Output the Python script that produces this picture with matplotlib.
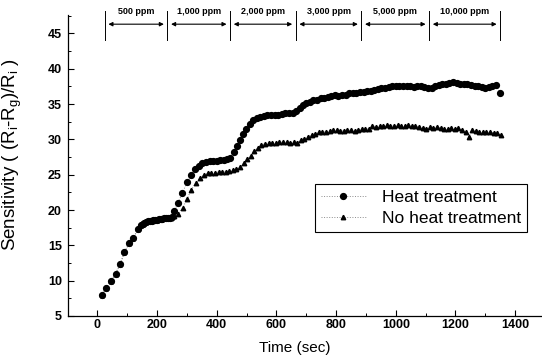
import matplotlib
matplotlib.use("Agg")
import matplotlib.pyplot as plt
from matplotlib.ticker import MultipleLocator

plt.rcParams['font.family'] = ['Liberation Sans', 'DejaVu Sans']
plt.rcParams['mathtext.fontset'] = 'custom'
plt.rcParams['mathtext.rm'] = 'Liberation Sans'
plt.rcParams['mathtext.it'] = 'Liberation Sans'

# ---- data ----
heat_t = [15, 29, 45, 61, 76, 91, 106, 121, 136, 146,
          152, 158, 164, 170, 176, 182, 188, 194, 200, 206, 212, 218, 224, 230, 236, 242, 250,
          258, 270, 285, 300, 315, 328, 340, 352, 364, 376, 388, 400, 412, 424, 436, 446,
          458, 468, 478, 488, 498, 510, 522, 534, 546, 558, 570, 582, 594, 606, 618, 630,
          642, 654, 666, 678, 688, 700, 712, 724, 736, 748, 760, 772, 784, 796, 808, 820,
          832, 844, 856, 868, 880, 892, 904, 916, 928, 940, 952, 964, 976, 988, 1000, 1012,
          1024, 1036, 1048, 1060, 1072, 1084, 1096, 1108, 1120, 1132, 1144, 1156, 1168, 1180,
          1192, 1204, 1216, 1228, 1240, 1252, 1264, 1276, 1288, 1300, 1312, 1324, 1336, 1350]
heat_s = [8.0, 9.0, 9.9, 11.0, 12.3, 14.0, 15.3, 16.1, 17.3, 17.9,
          18.0, 18.2, 18.3, 18.4, 18.4, 18.5, 18.6, 18.6, 18.6, 18.7, 18.7, 18.7, 18.8, 18.8, 18.8, 18.9, 19.0,
          19.9, 21.0, 22.4, 23.9, 24.9, 25.8, 26.3, 26.6, 26.8, 26.9, 27.0, 27.0, 27.1, 27.1, 27.2, 27.3,
          28.2, 29.0, 29.9, 30.8, 31.5, 32.2, 32.7, 33.0, 33.2, 33.3, 33.4, 33.4, 33.5, 33.5, 33.6, 33.7,
          33.7, 33.8, 34.0, 34.4, 34.9, 35.1, 35.3, 35.5, 35.6, 35.8, 35.8, 36.0, 36.2, 36.3, 36.2, 36.3,
          36.3, 36.5, 36.5, 36.6, 36.7, 36.7, 36.9, 36.9, 37.0, 37.1, 37.2, 37.3, 37.4, 37.5, 37.6, 37.6,
          37.5, 37.5, 37.5, 37.4, 37.5, 37.5, 37.4, 37.3, 37.3, 37.5, 37.7, 37.8, 37.9, 38.0,
          38.1, 38.0, 37.8, 37.8, 37.8, 37.7, 37.6, 37.5, 37.4, 37.3, 37.4, 37.6, 37.7, 36.6]

noheat_t = [15, 29, 45, 61, 76, 91, 106, 121, 136, 146,
            152, 164, 176, 188, 200, 212, 224, 236, 248,
            258, 270, 286, 300, 314, 329, 344, 358, 370, 382, 394, 406, 418, 430, 442,
            454, 466, 478, 490, 502, 514, 526, 538, 550, 562, 574, 586, 598, 610, 622, 634,
            646, 658, 670, 682, 694, 706, 718, 730, 742, 754, 766, 778, 790, 802, 814, 826,
            838, 850, 862, 874, 886, 898, 910, 922, 934, 946, 958, 970, 982, 994, 1006, 1018,
            1030, 1042, 1054, 1066, 1078, 1090, 1102, 1114, 1126, 1138, 1150, 1162, 1174, 1186,
            1198, 1210, 1222, 1234, 1244, 1256, 1268, 1280, 1292, 1304, 1316, 1328, 1340, 1352]
noheat_s = [8.0, 9.0, 9.9, 11.0, 12.3, 14.0, 15.3, 16.1, 17.3, 17.9,
            18.0, 18.3, 18.4, 18.6, 18.6, 18.7, 18.8, 18.8, 18.9,
            19.2, 19.5, 20.3, 21.5, 22.8, 23.8, 24.5, 25.0, 25.2, 25.3, 25.3, 25.4, 25.4, 25.4, 25.5,
            25.6, 25.8, 26.1, 26.6, 27.2, 27.7, 28.3, 28.8, 29.2, 29.4, 29.5, 29.5, 29.5, 29.6, 29.6, 29.6,
            29.5, 29.6, 29.5, 29.9, 30.1, 30.4, 30.6, 30.8, 31.0, 31.1, 31.0, 31.2, 31.3, 31.3, 31.2, 31.2,
            31.3, 31.3, 31.2, 31.3, 31.4, 31.4, 31.5, 31.9, 31.8, 31.9, 31.9, 32.0, 31.9, 31.9, 32.0, 31.9,
            31.9, 32.0, 31.9, 31.9, 31.8, 31.6, 31.5, 31.7, 31.6, 31.8, 31.6, 31.5, 31.4, 31.6,
            31.4, 31.6, 31.3, 31.1, 30.4, 31.3, 31.2, 31.1, 31.1, 31.0, 31.1, 30.9, 30.9, 30.6]

conc_bounds = [25, 235, 445, 665, 885, 1112, 1350]
conc_labels = ["500 ppm", "1,000 ppm", "2,000 ppm", "3,000 ppm", "5,000 ppm", "10,000 ppm"]

# ---- figure ----
fig = plt.figure(figsize=(5.42, 3.61), dpi=100)
ax = fig.add_axes([67.5 / 542, 45 / 361, (542 - 67.5) / 542, 301 / 361])

ax.plot(noheat_t, noheat_s, ls=':', color='0.55', lw=0.7, marker='^', ms=3.2,
        mfc='black', mec='black', label='No heat treatment', zorder=2)
ax.plot(heat_t, heat_s, ls=':', color='0.55', lw=0.7, marker='o', ms=4.2,
        mfc='black', mec='black', label='Heat treatment', zorder=3)

ax.set_xlim(-100, 1490)
ax.set_ylim(5, 47.6)
ax.xaxis.set_major_locator(MultipleLocator(200))
ax.xaxis.set_minor_locator(MultipleLocator(100))
ax.yaxis.set_major_locator(MultipleLocator(5))
ax.yaxis.set_minor_locator(MultipleLocator(2.5))
ax.set_xticks([0, 200, 400, 600, 800, 1000, 1200, 1400])

for s in ['top', 'right']:
    ax.spines[s].set_visible(False)
for s in ['left', 'bottom']:
    ax.spines[s].set_linewidth(0.9)

ax.tick_params(axis='both', which='major', direction='in', length=4, width=0.8)
ax.tick_params(axis='both', which='minor', direction='in', length=2.5, width=0.7)
ax.tick_params(axis='x', pad=2)
ax.tick_params(axis='y', pad=4)
for lab in ax.get_xticklabels() + ax.get_yticklabels():
    lab.set_fontsize(9)
    lab.set_fontweight('bold')

ax.set_xlabel('Time (sec)', fontsize=11)
ax.xaxis.set_label_coords((294.5 - 67.5) / 474.5, (316 - 341) / 301)
ax.set_ylabel(r'Sensitivity ( (R$_{\rm i}$-R$_{\rm g}$)/R$_{\rm i}$ )', fontsize=13.5)
ax.yaxis.set_label_coords((24 - 67.5) / 474.5, (316 - 154) / 301)

# concentration annotations
for b in conc_bounds:
    ax.plot([b, b], [44.1, 48.1], color='black', lw=0.7, clip_on=False)
for i, lab in enumerate(conc_labels):
    a, b = conc_bounds[i], conc_bounds[i + 1]
    ax.annotate('', xy=(b - 12, 46.3), xytext=(a + 12, 46.3),
                arrowprops=dict(arrowstyle='<|-|>', color='black', lw=0.8,
                                mutation_scale=6, shrinkA=0, shrinkB=0),
                annotation_clip=False)
    ax.text((a + b) / 2, 48.1, lab, ha='center', va='center', fontsize=6.5,
            fontweight='bold', clip_on=False)

handles, labels = ax.get_legend_handles_labels()
leg = ax.legend(handles[::-1], labels[::-1], loc='upper left',
                bbox_to_anchor=(0.521, 0.438), fontsize=12.5, frameon=True,
                fancybox=False, framealpha=1, edgecolor='black',
                handlelength=2.6, borderpad=0.35, labelspacing=0.3,
                handletextpad=0.9, borderaxespad=0)
leg.get_frame().set_linewidth(0.8)

fig.savefig('out.png', dpi=100)
